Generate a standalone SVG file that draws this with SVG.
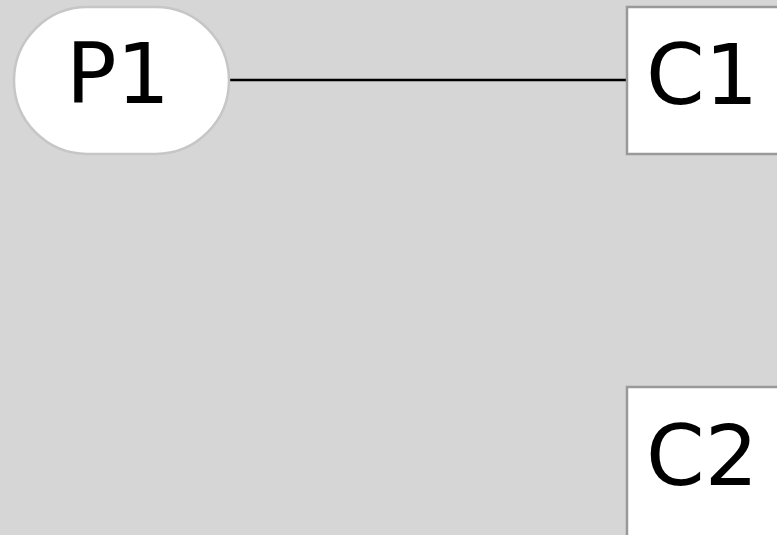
<svg xmlns="http://www.w3.org/2000/svg" width="777" height="535" viewBox="0 0 777 535">
<style>
.lbl{font-family:"DejaVu Sans","Liberation Sans",sans-serif;font-size:84px;fill:#000}
.box{fill:#fff;stroke:#999;stroke-width:2.5}
</style>
<rect width="777" height="535" fill="#d6d6d6"/>
<g id="connectors">
<line x1="230" y1="80" x2="627" y2="80" stroke="#000" stroke-width="2.5"/>
</g>
<g id="P1">
<rect x="14" y="7" width="215" height="147" rx="73.5" ry="73.5" fill="#fff" stroke="#c6c6c6" stroke-width="2.5"/>
<text class="lbl" x="118" y="103" text-anchor="middle">P1</text>
</g>
<g id="C1">
<rect class="box" x="627" y="7" width="170" height="147"/>
<text class="lbl" x="646" y="104">C1</text>
</g>
<g id="C2">
<rect class="box" x="627" y="387" width="170" height="170"/>
<text class="lbl" x="646" y="485">C2</text>
</g>
</svg>
